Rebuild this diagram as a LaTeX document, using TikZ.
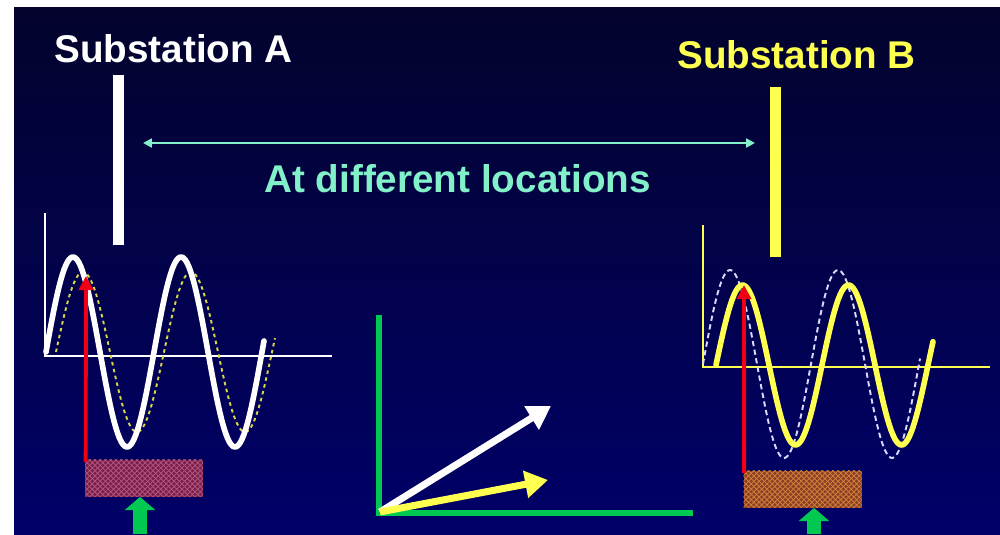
\documentclass[tikz,border=0pt]{standalone}
\usepackage{fontspec}
\setmainfont{Liberation Sans}
\usetikzlibrary{arrows.meta,patterns}

\definecolor{bgtop}{RGB}{3,3,45}
\definecolor{bgbottom}{RGB}{0,0,105}
\definecolor{mint}{RGB}{130,240,200}
\definecolor{sunny}{RGB}{255,255,80}
\definecolor{dimsunny}{RGB}{215,215,70}
\definecolor{phgreen}{RGB}{0,200,80}
\definecolor{hotred}{RGB}{240,0,20}
\definecolor{maroonbox}{RGB}{125,30,75}
\definecolor{rustbox}{RGB}{145,60,40}

\begin{document}
\begin{tikzpicture}[x=0.02cm, y=-0.02cm,
    title/.style={font=\fontsize{22}{26}\selectfont\bfseries, inner sep=0pt, anchor=base west},
    bar/.style={inner sep=0pt, minimum width=0.22cm, minimum height=3.4cm},
    thinaxis/.style={line width=0.9pt},
    wave/.style={line width=3.2pt, line join=round, line cap=round},
    ghost/.style={line width=1.1pt, dash pattern=on 2pt off 2pt},
    hatchbox/.style={inner sep=0pt, minimum width=2.36cm, minimum height=0.74cm, pattern=crosshatch},
    pointer/.style={hotred, line width=2.2pt, -{Triangle[length=8pt,width=8pt]}},
    feed/.style={phgreen, line width=8.5pt, -{Triangle[length=7.5pt,width=17pt]}},
    phasor/.style={line width=4pt, -{Triangle[length=13pt,width=15pt]}}]

    \useasboundingbox (0,0) rectangle (1000,534);
    \shade[top color=bgtop, bottom color=bgbottom] (14,7) rectangle (1000,534);

    % titles and bus bars
    \node[title, text=white] (subA) at (54,62) {Substation A};
    \node[title, text=sunny] (subB) at (677,68) {Substation B};
    \node[bar, fill=white] (barA) at (118.5,160) {};
    \node[bar, fill=sunny] (barB) at (775.5,172) {};

    \coordinate (gapL) at (143,143);
    \coordinate (gapR) at (755,143);
    \draw[mint, line width=1.3pt, {Triangle[length=5pt,width=5pt]}-{Triangle[length=5pt,width=5pt]}] (gapL) -- (gapR);
    \node[title, text=mint] (dist) at (264,192) {At different locations};

    % substation A waveform
    \draw[white, thinaxis] (45,213) |- (332,356);
    \draw[dimsunny, ghost] plot[domain=56:275, samples=120] (\x,{352-80*sin((\x-56)/108*360)});
    \draw[white, wave] plot[domain=46:264, samples=120] (\x,{352-95*sin((\x-46)/108*360)});
    \node[hatchbox, preaction={fill=maroonbox}, pattern color={rgb,255:red,175;green,90;blue,130}] (boxA) at (144,478) {};
    \draw[pointer] ([xshift=0.02cm,yshift=-0.06cm]boxA.north west) -- (86,276);
    \coordinate (feedA) at (140,534);
    \draw[feed] (feedA) -- (feedA |- boxA.south);

    % substation B waveform
    \draw[sunny, thinaxis] (703,225) |- (990,367);
    \draw[white!85!blue, ghost, dash pattern=on 3pt off 2pt] plot[domain=703:920, samples=120] (\x,{364-94*sin((\x-703)/108*360)});
    \draw[sunny, wave] plot[domain=716:933, samples=120] (\x,{365-80*sin((\x-716)/106*360)});
    \node[hatchbox, preaction={fill=rustbox}, pattern color={rgb,255:red,205;green,135;blue,55}] (boxB) at (802.5,489) {};
    \draw[pointer] ([xshift=0.02cm,yshift=-0.06cm]boxB.north west) -- (744,285);
    \coordinate (feedB) at (814,534);
    \draw[feed] (feedB) -- (feedB |- boxB.south);

    % phasor diagram
    \coordinate (o) at (380,512);
    \coordinate (vA) at (551,406);
    \coordinate (vB) at (548,480);
    \draw[phgreen, line width=3.4pt] (379,315) |- (693,513);
    \draw[phasor, white] (o) -- (vA);
    \draw[phasor, sunny] (o) -- (vB);
\end{tikzpicture}
\end{document}
